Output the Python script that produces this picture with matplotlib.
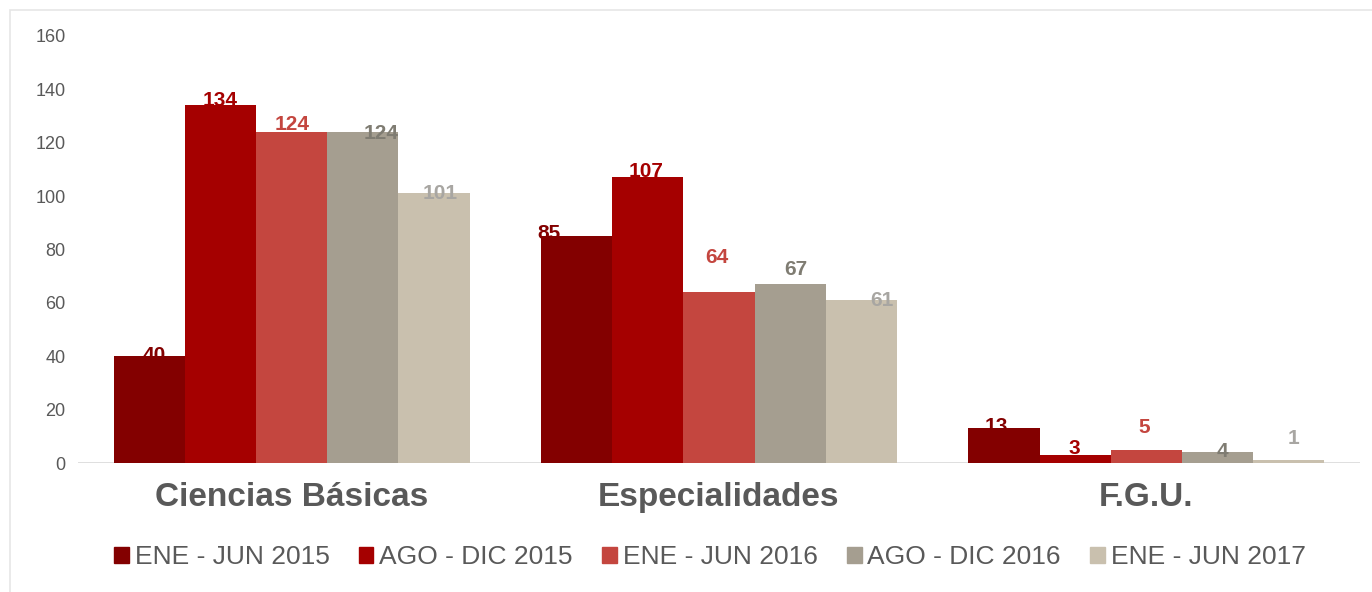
"""
Grouped bar chart: students per area and semester.
Three areas, five semesters, Excel-like styling.
"""

import matplotlib
matplotlib.use("Agg")
import matplotlib.pyplot as plt
import matplotlib.patches as mpatches
import numpy as np

plt.rcParams["font.family"] = ["Liberation Sans", "DejaVu Sans"]

# data
categories = ["Ciencias Básicas", "Especialidades", "F.G.U."]
series_names = ["ENE - JUN 2015", "AGO - DIC 2015", "ENE - JUN 2016",
                "AGO - DIC 2016", "ENE - JUN 2017"]
ene_jun_2015 = [40, 85, 13]
ago_dic_2015 = [134, 107, 3]
ene_jun_2016 = [124, 64, 5]
ago_dic_2016 = [124, 67, 4]
ene_jun_2017 = [101, 61, 1]
y_ticks = [0, 20, 40, 60, 80, 100, 120, 140, 160]

series_values = [ene_jun_2015, ago_dic_2015, ene_jun_2016, ago_dic_2016, ene_jun_2017]

# colors
bar_colors = ["#830000", "#A50000", "#C4463F", "#A59E90", "#C9C0AE"]
label_colors = ["#830000", "#A50000", "#C4463F", "#7F7C72", "#A8A6A2"]
text_grey = "#595959"
line_grey = "#D9D9D9"

# label nudges in pixels (dx, dy), mimicking the Excel placement
label_nudge = [
    [(5, 1), (-28, 3), (-8, 2)],
    [(0, 5), (-2, 6), (-1, 6)],
    [(0, 8), (-2, 35), (-2, 22)],
    [(18, -1), (6, 15), (5, 1)],
    [(6, 0), (20, 0), (5, 22)],
]

W, H, DPI = 1372, 592, 100
fig = plt.figure(figsize=(W / DPI, H / DPI), dpi=DPI)
fig.patch.set_facecolor("white")

# outer chart frame (only top and left edges fall inside the picture)
frame = mpatches.Rectangle((10 / W, -0.05), 1.2, 1 - 10 / H + 0.05,
                           transform=fig.transFigure, fill=False,
                           edgecolor="#E6E6E6", linewidth=1.2)
fig.patches.append(frame)

ax = fig.add_axes([78 / W, 1 - 463 / H, (1360 - 78) / W, (463 - 36) / H])

n_series = len(series_values)
bar_w = 1 / 6
x = np.arange(len(categories))

for i, vals in enumerate(series_values):
    pos = x + (i - (n_series - 1) / 2) * bar_w
    ax.bar(pos, vals, width=bar_w, color=bar_colors[i], edgecolor="none",
           zorder=3, label=series_names[i])
    for j, v in enumerate(vals):
        dx, dy = label_nudge[i][j]
        ax.annotate(str(v), xy=(pos[j], v),
                    xytext=(dx * 72 / DPI, dy * 72 / DPI),
                    textcoords="offset points", ha="center", va="center",
                    fontsize=15, fontweight="bold", color=label_colors[i],
                    zorder=2 if i < 3 else 4)

ax.set_xlim(-0.5, len(categories) - 0.5)
ax.set_ylim(0, 160)
ax.set_yticks(y_ticks)
ax.set_yticklabels([str(t) for t in y_ticks], fontsize=13, color=text_grey)
ax.set_xticks(x)
ax.set_xticklabels(categories, fontsize=24, fontweight="bold", color=text_grey)
ax.tick_params(axis="y", length=0, pad=9)
ax.tick_params(axis="x", length=0, pad=14)

for s in ["top", "right", "left", "bottom"]:
    ax.spines[s].set_visible(False)
ax.axhline(0, color=line_grey, linewidth=1.2, zorder=1)

handles = [mpatches.Patch(color=c, label=n) for c, n in zip(bar_colors, series_names)]
leg = fig.legend(handles=handles, loc="center", ncol=5,
                 bbox_to_anchor=(710 / W, 1 - 557 / H), frameon=False,
                 fontsize=19, handlelength=0.55, handleheight=0.55,
                 handletextpad=0.22, columnspacing=1.12)
for t in leg.get_texts():
    t.set_color(text_grey)

fig.savefig("out.png", dpi=DPI)
